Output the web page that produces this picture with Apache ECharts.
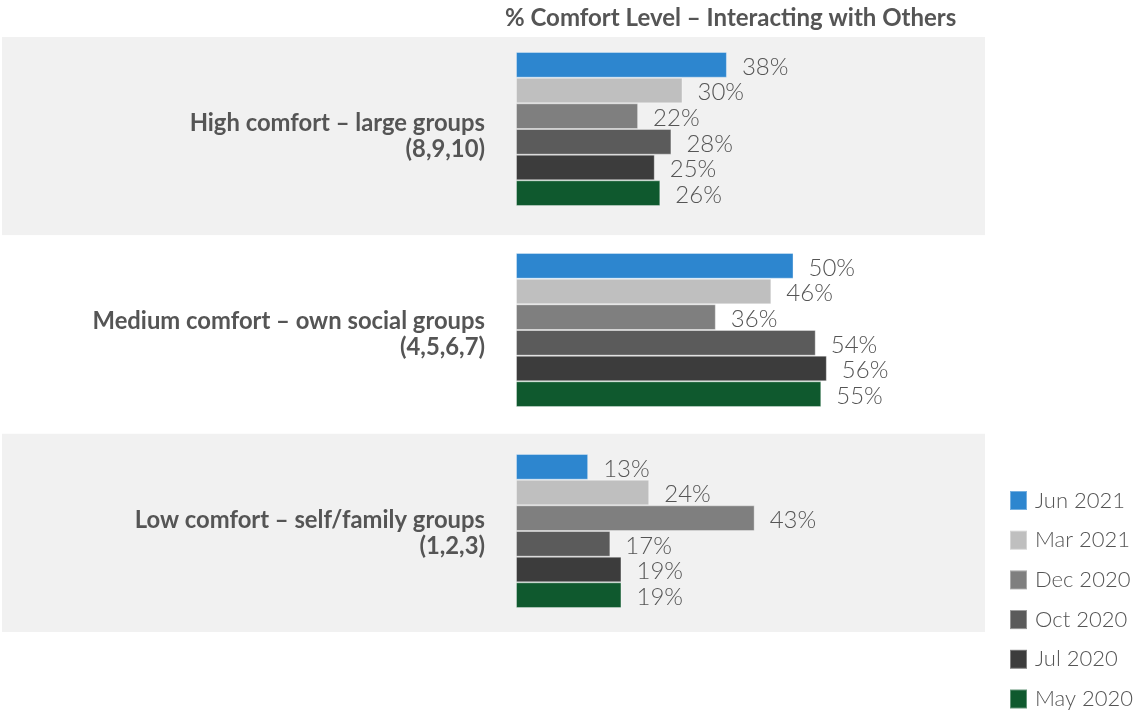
<!DOCTYPE html>
<html>
<head>
<meta charset="utf-8">
<script src="https://cdn.jsdelivr.net/npm/echarts@6/dist/echarts.min.js"></script>
<style>
  html, body { margin: 0; padding: 0; background: #ffffff; }
  #chart { width: 1145px; height: 711px; }
</style>
</head>
<body>
<div id="chart"></div>
<script>
// Comfort-level groups (top to bottom)
const categories = [
  'High comfort – large groups\n(8,9,10)',
  'Medium comfort – own social groups\n(4,5,6,7)',
  'Low comfort – self/family groups\n(1,2,3)'
];

// Survey waves, newest first
const seriesNames = ['Jun 2021', 'Mar 2021', 'Dec 2020', 'Oct 2020', 'Jul 2020', 'May 2020'];

// Percent of respondents per group, one array per wave
const jun2021 = [38, 50, 13];
const mar2021 = [30, 46, 24];
const dec2020 = [22, 36, 43];
const oct2020 = [28, 54, 17];
const jul2020 = [25, 56, 19];
const may2020 = [26, 55, 19];

const seriesValues = [jun2021, mar2021, dec2020, oct2020, jul2020, may2020];
const seriesColors = ['#2d86cf', '#bfbfbf', '#7f7f7f', '#5b5b5b', '#3c3c3c', '#0f592e'];

const textColor = '#555555';
const fontFamily = 'Lato, "Open Sans", sans-serif';

const chart = echarts.init(document.getElementById('chart'), null, { renderer: 'canvas' });

chart.setOption({
  animation: false,
  backgroundColor: '#ffffff',
  textStyle: { fontFamily: fontFamily },
  title: {
    text: '% Comfort Level – Interacting with Others',
    left: 500,
    top: 1,
    textStyle: { fontSize: 24, fontWeight: 'bold', color: textColor, fontFamily: fontFamily }
  },
  legend: {
    orient: 'vertical',
    left: 1009,
    top: 489.5,
    padding: 0,
    icon: 'rect',
    itemWidth: 17,
    itemHeight: 19,
    itemGap: 17.7,
    data: seriesNames,
    textStyle: {
      fontSize: 22,
      lineHeight: 21,
      fontWeight: 300,
      color: textColor,
      padding: [0, 0, 0, 3],
      fontFamily: fontFamily
    }
  },
  grid: [
    // bars
    { left: 516, right: 160, top: 28.5, bottom: 79.5, containLabel: false, outerBoundsMode: 'none' },
    // full-width alternating row bands, carrying the group labels
    { left: 2, right: 160, top: 37, bottom: 79, containLabel: false, outerBoundsMode: 'none' }
  ],
  xAxis: [
    { type: 'value', gridIndex: 0, min: 0, max: 84.5, show: false, splitLine: { show: false } },
    { type: 'value', gridIndex: 1, min: 0, max: 1, show: false, splitLine: { show: false } }
  ],
  yAxis: [
    {
      type: 'category',
      gridIndex: 0,
      inverse: true,
      data: categories,
      axisLine: { show: false },
      axisTick: { show: false },
      axisLabel: { show: false },
      splitLine: { show: false },
      splitArea: { show: false }
    },
    {
      type: 'category',
      gridIndex: 1,
      inverse: true,
      data: categories,
      z: -1,
      axisLine: { show: false },
      axisTick: { show: false },
      axisLabel: {
        inside: true,
        margin: 483,
        align: 'right',
        fontSize: 23.8,
        fontWeight: 'bold',
        lineHeight: 26,
        padding: [0, 0, 8, 0],
        color: textColor,
        fontFamily: fontFamily
      },
      splitLine: { show: false },
      splitArea: {
        show: true,
        areaStyle: { color: ['#f1f1f1', '#ffffff'] }
      }
    }
  ],
  series: seriesNames.map((name, i) => ({
    name: name,
    type: 'bar',
    xAxisIndex: 0,
    yAxisIndex: 0,
    data: seriesValues[i],
    barGap: '0%',
    barCategoryGap: '23.4%',
    itemStyle: {
      color: seriesColors[i],
      borderColor: 'rgba(255,255,255,0.35)',
      borderWidth: 1
    },
    label: {
      show: true,
      position: 'right',
      distance: 15,
      formatter: '{c}%',
      fontSize: 24,
      fontWeight: 300,
      color: textColor,
      fontFamily: fontFamily,
      offset: [0, 2]
    }
  }))
});
</script>
</body>
</html>
